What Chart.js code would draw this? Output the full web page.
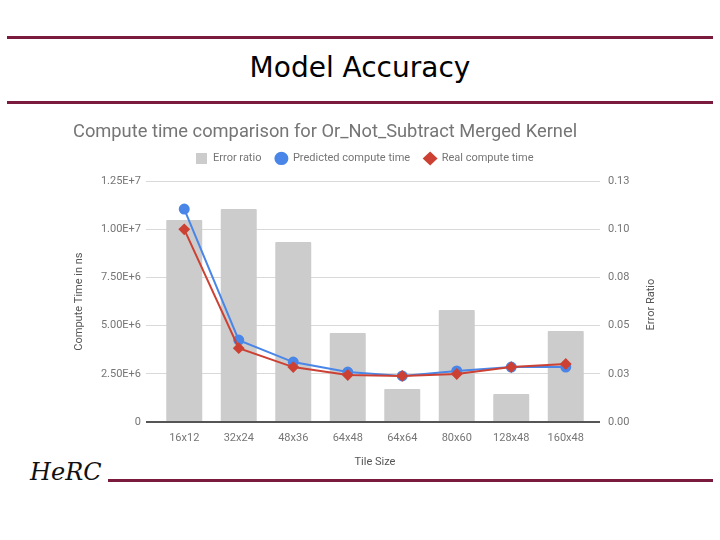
<!DOCTYPE html>
<html>
<head>
<meta charset="utf-8">
<script src="https://cdn.jsdelivr.net/npm/chart.js@4/dist/chart.umd.min.js"></script>
<style>
    html, body { margin: 0; padding: 0; background: #fff; }
    #slide { position: relative; width: 720px; height: 540px; overflow: hidden; }
    .rule { position: absolute; height: 3px; background: #7a1a3c; }
    #slideTitle {
        position: absolute; left: 0; width: 720px; top: 51px;
        text-align: center; font-family: "DejaVu Sans", sans-serif;
        font-size: 28px; color: #000;
    }
    #logo {
        position: absolute; left: 30px; top: 458px;
        font-family: "DejaVu Serif", serif; font-style: italic; font-size: 24px; color: #111;
    }
    #chartBox { position: absolute; left: 60px; top: 110px; width: 620px; height: 365px; }
</style>
</head>
<body>
<div id="slide">
    <div class="rule" style="left:7px; width:706px; top:36px;"></div>
    <div id="slideTitle">Model Accuracy</div>
    <div class="rule" style="left:7px; width:706px; top:101px;"></div>
    <div class="rule" style="left:108px; width:605px; top:479px;"></div>
    <div id="logo">HeRC</div>
    <div id="chartBox"><canvas id="chart"></canvas></div>
</div>
<script>
(function () {
    'use strict';

    // ── 資料 ─────────────────────────────────────────────
    var tileSizes = ['16x12', '32x24', '48x36', '64x48', '64x64', '80x60', '128x48', '160x48'];
    var errorRatio = [0.1048, 0.1105, 0.0934, 0.0462, 0.0171, 0.0581, 0.0145, 0.0472];
    var predictedTime = [1.105e7, 4.25e6, 3.11e6, 2.59e6, 2.39e6, 2.65e6, 2.85e6, 2.85e6];
    var realTime = [1.0e7, 3.83e6, 2.85e6, 2.44e6, 2.39e6, 2.49e6, 2.85e6, 3.01e6];

    var TEXT = '#757575';
    var FONT = 'Roboto';
    var BAR_COLOR = '#cccccc';

    function gridColor(ctx) {
        return ctx.tick && ctx.tick.value === 0 ? '#555' : '#d9d9d9';
    }
    function gridWidth(ctx) {
        return ctx.tick && ctx.tick.value === 0 ? 2 : 1;
    }

    // 圖例用的灰色方塊（比內建 rect 大一點）
    var legendSquare = document.createElement('canvas');
    legendSquare.width = 11;
    legendSquare.height = 11;
    var sq = legendSquare.getContext('2d');
    sq.fillStyle = BAR_COLOR;
    sq.fillRect(0, 0, 11, 11);

    // 右側軸標題（與左側同方向旋轉）
    var rightTitle = {
        id: 'rightTitle',
        afterDraw: function (chart) {
            var c = chart.ctx, a = chart.chartArea;
            c.save();
            c.translate(591, (a.top + a.bottom) / 2 + 3);
            c.rotate(-Math.PI / 2);
            c.font = '11px ' + FONT;
            c.fillStyle = '#555';
            c.textAlign = 'center';
            c.textBaseline = 'middle';
            c.fillText('Error Ratio', 0, 0);
            c.restore();
        }
    };

    new Chart(document.getElementById('chart').getContext('2d'), {
        data: {
            labels: tileSizes,
            datasets: [{
                type: 'bar',
                label: 'Error ratio',
                data: errorRatio,
                yAxisID: 'yR',
                backgroundColor: BAR_COLOR,
                borderWidth: 0,
                borderRadius: 1,
                categoryPercentage: 1,
                barPercentage: 0.66,
                pointStyle: legendSquare,
                order: 3
            }, {
                type: 'line',
                label: 'Predicted compute time',
                data: predictedTime,
                yAxisID: 'y',
                borderColor: '#4a86e8',
                backgroundColor: '#4a86e8',
                borderWidth: 2,
                pointStyle: 'circle',
                pointRadius: 4.5,
                tension: 0,
                order: 2
            }, {
                type: 'line',
                label: 'Real compute time',
                data: realTime,
                yAxisID: 'y',
                borderColor: '#cc4133',
                backgroundColor: '#cc4133',
                borderWidth: 2,
                pointStyle: 'rectRot',
                pointRadius: 4.5,
                tension: 0,
                order: 1
            }]
        },
        options: {
            responsive: true,
            maintainAspectRatio: false,
            animation: false,
            layout: { padding: { left: 13, right: 24, top: 0, bottom: 0 } },
            plugins: {
                title: {
                    display: true,
                    align: 'start',
                    text: 'Compute time comparison for Or_Not_Subtract Merged Kernel',
                    color: TEXT,
                    font: { family: FONT, size: 18.3, weight: 'normal' },
                    padding: { top: 11, bottom: -4 }
                },
                // 圖例與繪圖區之間的留白
                subtitle: {
                    display: true,
                    text: '',
                    weight: 500,
                    font: { size: 1 },
                    padding: { top: 6, bottom: 0 }
                },
                legend: {
                    labels: {
                        usePointStyle: true,
                        pointStyleWidth: 12,
                        boxHeight: 8,
                        color: TEXT,
                        font: { family: FONT, size: 11 },
                        padding: 14,
                        sort: function (a, b) { return a.datasetIndex - b.datasetIndex; }
                    }
                },
                tooltip: { enabled: false }
            },
            scales: {
                x: {
                    grid: { display: false },
                    border: { display: false },
                    ticks: { color: TEXT, font: { family: FONT, size: 11 }, padding: 2 },
                    title: {
                        display: true, text: 'Tile Size', color: '#555',
                        font: { family: FONT, size: 11 }, padding: { top: 10, bottom: 6 }
                    },
                    afterFit: function (s) { s.height = 53; }
                },
                y: {
                    position: 'left',
                    min: 0,
                    max: 1.25e7,
                    ticks: {
                        stepSize: 2.5e6,
                        color: TEXT,
                        font: { family: FONT, size: 11 },
                        padding: 5,
                        callback: function (v) { return v === 0 ? '0' : v.toExponential(2).toUpperCase(); }
                    },
                    grid: { color: gridColor, lineWidth: gridWidth, tickLength: 11 },
                    border: { display: false },
                    title: {
                        display: true, text: 'Compute Time in ns', color: '#555',
                        font: { family: FONT, size: 11 }, padding: 0
                    },
                    afterFit: function (s) { s.width = 84; }
                },
                yR: {
                    position: 'right',
                    min: 0,
                    max: 0.125,
                    ticks: {
                        stepSize: 0.025,
                        color: TEXT,
                        font: { family: FONT, size: 11 },
                        padding: 8,
                        callback: function (v) { return (Math.round(v * 100 + 1e-9) / 100).toFixed(2); }
                    },
                    grid: { drawOnChartArea: false, color: gridColor, lineWidth: gridWidth, tickLength: 7 },
                    border: { display: false },
                    afterFit: function (s) { s.width = 63; }
                }
            }
        },
        plugins: [rightTitle]
    });
})();
</script>
</body>
</html>
